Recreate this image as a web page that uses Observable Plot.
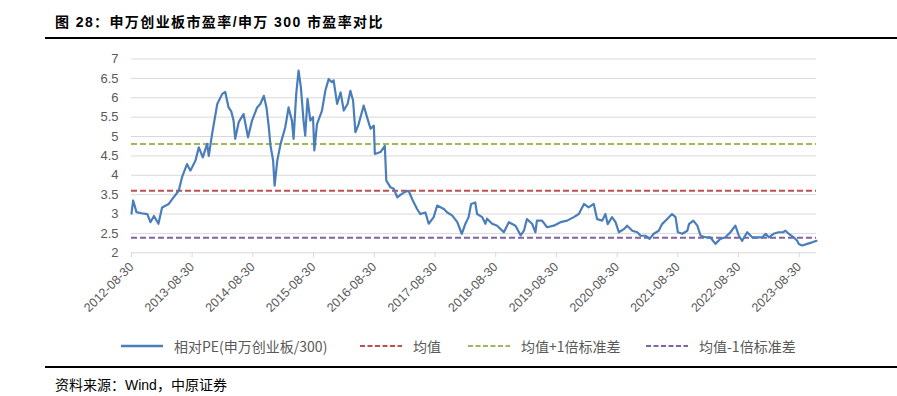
<!DOCTYPE html>
<html>
<head>
<meta charset="utf-8">
<script src="https://cdn.jsdelivr.net/npm/d3@7"></script>
<script src="https://cdn.jsdelivr.net/npm/@observablehq/plot@0.6"></script>
<style>
  html, body { margin: 0; padding: 0; background: #fff; }
  #wrap { position: relative; width: 897px; height: 396px; overflow: hidden; background: #fff; }
  #title { position: absolute; left: 55px; top: 11px; font-family: "Liberation Sans", "Noto Sans CJK SC", sans-serif; font-size: 14px; font-weight: bold; letter-spacing: 1.4px; color: #000; white-space: nowrap; }
  .rule { position: absolute; left: 45px; width: 852px; height: 2px; background: #000; }
  #chart { position: absolute; left: 0; top: 45px; }
  #legend { position: absolute; left: 0; top: 336px; width: 897px; height: 20px; font-family: "Noto Sans CJK SC", sans-serif; font-size: 14px; color: #595959; }
  .item { position: absolute; top: 0; height: 20px; display: flex; align-items: center; white-space: nowrap; }
  .item svg { margin-right: 11px; }
  #source { position: absolute; left: 55px; top: 374px; font-family: "Liberation Sans", "Noto Sans CJK SC", sans-serif; font-size: 14px; color: #000; white-space: nowrap; }
</style>
</head>
<body>
<div id="wrap">
  <div id="title"></div>
  <div class="rule" style="top:37px"></div>
  <div id="chart"></div>
  <div id="legend"></div>
  <div class="rule" style="top:366px"></div>
  <div id="source"></div>
</div>
<script>
const titleText = "图 28：申万创业板市盈率/申万 300 市盈率对比";
const sourceText = "资料来源：Wind，中原证券";

const dates = [
  "2012-08-30","2012-09-09","2012-09-29","2012-10-29","2012-12-03","2012-12-22","2013-01-12","2013-02-08","2013-03-02","2013-04-11",
  "2013-05-10","2013-06-10","2013-06-30","2013-07-30","2013-08-19","2013-09-19","2013-10-09","2013-11-02","2013-11-28","2013-12-08",
  "2013-12-28","2014-01-28","2014-02-27","2014-03-17","2014-04-06","2014-04-22","2014-05-06","2014-05-16","2014-06-06","2014-07-05",
  "2014-08-01","2014-08-25","2014-09-25","2014-10-14","2014-11-04","2014-11-20","2014-12-04","2014-12-14","2014-12-30","2015-01-08",
  "2015-01-24","2015-02-13","2015-03-13","2015-04-02","2015-04-22","2015-05-02","2015-05-18","2015-06-01","2015-06-15","2015-07-01",
  "2015-07-11","2015-07-25","2015-08-11","2015-08-27","2015-09-04","2015-09-20","2015-10-20","2015-11-09","2015-11-29","2015-12-19",
  "2015-12-29","2016-01-19","2016-02-09","2016-02-28","2016-03-22","2016-04-08","2016-04-24","2016-05-08","2016-05-26","2016-06-27",
  "2016-07-17","2016-08-07","2016-08-27","2016-09-02","2016-10-06","2016-11-01","2016-11-10","2016-12-05","2016-12-25","2017-01-15",
  "2017-02-05","2017-02-25","2017-03-24","2017-04-14","2017-05-14","2017-06-03","2017-07-03","2017-07-23","2017-08-22","2017-09-12",
  "2017-10-22","2017-11-12","2017-12-12","2018-01-11","2018-02-07","2018-03-01","2018-03-20","2018-04-04","2018-04-29","2018-05-10",
  "2018-06-10","2018-06-29","2018-07-09","2018-08-09","2018-09-08","2018-10-18","2018-11-17","2018-12-27","2019-01-27","2019-02-16",
  "2019-03-06","2019-04-06","2019-04-26","2019-05-05","2019-06-05","2019-07-05","2019-08-14","2019-09-24","2019-11-03","2019-12-13",
  "2020-01-12","2020-02-12","2020-03-11","2020-04-11","2020-05-01","2020-06-01","2020-06-20","2020-07-04","2020-07-30","2020-08-20",
  "2020-09-09","2020-10-09","2020-10-29","2020-11-29","2020-12-29","2021-01-18","2021-02-18","2021-03-13","2021-04-07","2021-05-07",
  "2021-05-27","2021-06-27","2021-07-26","2021-08-16","2021-08-30","2021-09-26","2021-10-26","2021-11-05","2021-12-01","2021-12-25",
  "2022-01-14","2022-02-14","2022-03-13","2022-04-13","2022-05-13","2022-06-12","2022-07-12","2022-08-11","2022-09-01","2022-09-21",
  "2022-10-21","2022-11-20","2022-12-20","2023-01-20","2023-02-09","2023-02-28","2023-03-29","2023-04-28","2023-05-25","2023-06-08",
  "2023-06-28","2023-07-28","2023-08-18","2023-08-27","2023-09-17","2023-10-17","2023-11-16","2023-12-12"
];

const relativePE = [
  3.01,3.35,3.05,3.02,3.0,2.79,2.95,2.75,3.17,3.26,
  3.43,3.6,3.95,4.29,4.12,4.38,4.72,4.46,4.81,4.5,
  5.07,5.84,6.1,6.15,5.75,5.65,5.41,4.94,5.37,5.58,
  4.98,5.41,5.75,5.84,6.05,5.75,5.24,4.77,4.38,3.73,
  4.38,4.81,5.24,5.75,5.41,4.94,6.1,6.7,6.27,5.41,
  5.02,5.97,5.41,5.5,4.64,5.32,5.67,6.18,6.48,6.4,
  6.45,5.84,6.14,5.67,5.84,6.18,5.93,5.11,5.3,5.8,
  5.5,5.2,5.28,4.55,4.6,4.76,3.86,3.69,3.65,3.43,
  3.5,3.56,3.6,3.39,3.13,3.0,3.04,2.75,2.92,3.22,
  3.13,3.04,2.96,2.79,2.49,2.75,2.92,3.26,3.3,3.0,
  2.92,2.75,2.88,2.75,2.7,2.53,2.79,2.7,2.45,2.57,
  2.87,2.75,2.53,2.83,2.83,2.66,2.7,2.79,2.83,2.92,
  3.0,3.26,3.17,3.26,2.87,2.83,3.0,2.74,2.92,2.79,
  2.53,2.61,2.7,2.57,2.53,2.44,2.44,2.36,2.49,2.57,
  2.74,2.87,3.0,2.92,2.53,2.49,2.57,2.74,2.83,2.7,
  2.44,2.4,2.4,2.23,2.36,2.4,2.53,2.7,2.44,2.31,
  2.53,2.4,2.4,2.4,2.49,2.4,2.49,2.53,2.53,2.57,
  2.49,2.4,2.31,2.23,2.19,2.23,2.27,2.31
];

const seriesNames = ["相对PE(申万创业板/300)", "均值", "均值+1倍标准差", "均值-1倍标准差"];
const seriesColors = ["#4a7ebb", "#c0504d", "#9bbb59", "#8064a2"];
const refValues = [3.6, 4.81, 2.39];
const yTicks = [2, 2.5, 3, 3.5, 4, 4.5, 5, 5.5, 6, 6.5, 7];
const xTickLabels = ["2012-08-30","2013-08-30","2014-08-30","2015-08-30","2016-08-30","2017-08-30","2018-08-30","2019-08-30","2020-08-30","2021-08-30","2022-08-30","2023-08-30"];
const xEnd = "2023-12-12";

document.getElementById("title").textContent = titleText;
document.getElementById("source").textContent = sourceText;

const parse = d3.utcParse("%Y-%m-%d");
const fmt = d3.utcFormat("%Y-%m-%d");
const n = Math.min(dates.length, relativePE.length);
const data = d3.range(n).map(i => ({date: parse(dates[i]), pe: relativePE[i]}));
const xTicks = xTickLabels.map(parse);

const refMarks = refValues.map((v, i) =>
  Plot.ruleY([v], {stroke: seriesColors[i + 1], strokeWidth: 2, strokeDasharray: "6,3"})
);

const chart = Plot.plot({
  width: 897,
  height: 270,
  marginLeft: 131,
  marginRight: 81,
  marginTop: 13.5,
  marginBottom: 62.7,
  style: {fontFamily: "Liberation Sans, sans-serif", fontSize: "13px", background: "transparent", overflow: "visible"},
  x: {type: "utc", domain: [parse(xTickLabels[0]), parse(xEnd)], label: null},
  y: {domain: [2, 7], label: null},
  marks: [
    Plot.gridY(yTicks.filter(d => d > 2), {stroke: "#d9d9d9", strokeOpacity: 1, strokeWidth: 1}),
    Plot.ruleY([2], {stroke: "#d9d9d9", strokeWidth: 1}),
    Plot.axisY(yTicks, {tickSize: 0, tickPadding: 13, fontSize: 13, fill: "#595959", tickFormat: d => String(d), label: null}),
    Plot.axisX(xTicks, {tickSize: 5, tickPadding: 7, stroke: "#d9d9d9", strokeOpacity: 1, tickRotate: -45, fontSize: 12.5, fill: "#595959", tickFormat: fmt, label: null}),
    ...refMarks,
    Plot.line(data, {x: "date", y: "pe", stroke: seriesColors[0], strokeWidth: 2.2})
  ]
});
document.getElementById("chart").appendChild(chart);

const legendLefts = [121, 360, 468, 646];
const legend = document.getElementById("legend");
seriesNames.forEach((name, i) => {
  const item = document.createElement("div");
  item.className = "item";
  item.style.left = legendLefts[i] + "px";
  const dash = i === 0 ? "" : ' stroke-dasharray="5,2.5"';
  item.innerHTML = `<svg width="42" height="10"><line x1="0" x2="42" y1="5" y2="5" stroke="${seriesColors[i]}" stroke-width="${i === 0 ? 2.5 : 2}"${dash}/></svg><span></span>`;
  item.querySelector("span").textContent = name;
  legend.appendChild(item);
});
</script>
</body>
</html>
